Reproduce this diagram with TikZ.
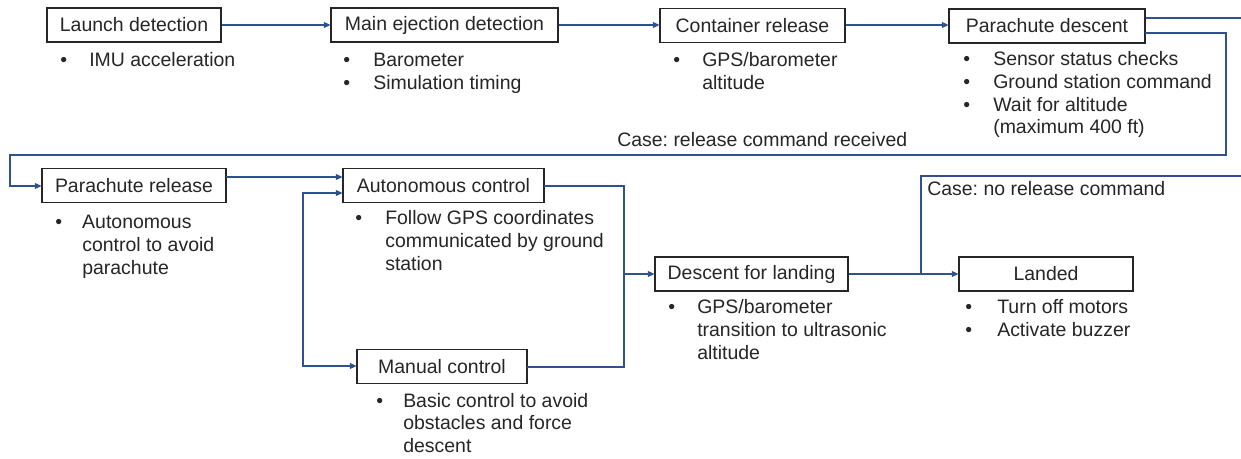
\documentclass[tikz,border=0pt]{standalone}
\usepackage{fontspec}
\setmainfont{Liberation Sans}
\usetikzlibrary{arrows.meta}
\definecolor{flowblue}{RGB}{47,82,143}
\definecolor{ink}{RGB}{38,38,38}
\frenchspacing
% bullet list: first column holds the bullet, second the (manually broken) text
\newcommand\bulletlist[2]{\begin{tabular}[t]{@{}p{#1}@{}l@{}}#2\end{tabular}}

\begin{document}
\begin{tikzpicture}[x=0.75pt,y=-0.75pt,
  every node/.style={font=\fontsize{14.6pt}{16.9pt}\selectfont, text=ink},
  stage/.style={draw=ink, line width=0.8pt, minimum height=25.5pt, inner sep=0pt},
  wd/.style={minimum width=#1*0.75pt},
  notes/.style={anchor=base west, inner sep=0pt},
  conn/.style={draw=flowblue, line width=0.9pt},
  arr/.style={-{Triangle[length=5pt,width=4.5pt]}},
  twoarr/.style={{Triangle[length=5pt,width=4.5pt]}-{Triangle[length=5pt,width=4.5pt]}}]

\useasboundingbox[fill=white] (0,0) rectangle (1241,459);

% ---- stages ----
\node[stage, wd=174] (launch)  at (134,25)     {Launch detection};
\node[stage, wd=227] (eject)   at (444.5,25)   {Main ejection detection};
\node[stage, wd=185] (contain) at (752.5,25.5) {Container release};
\node[stage, wd=196] (pdesc)   at (1047,26)    {Parachute descent};
\node[stage, wd=184] (prel)    at (134,185.5)  {Parachute release};
\node[stage, wd=201] (auto)    at (443.5,185.5){Autonomous control};
\node[stage, wd=170] (manual)  at (442,366.5)  {Manual control};
\node[stage, wd=193] (dland)   at (751.5,274)  {Descent for landing};
\node[stage, wd=174] (landed)  at (1046,274)   {Landed};

% ---- notes under each stage ----
\node[notes] (nlaunch) at (60,67) {\bulletlist{21.75pt}{\textbullet & IMU acceleration}};
\node[notes] (neject) at (343,67) {\bulletlist{22.5pt}{\textbullet & Barometer\\ \textbullet & Simulation timing}};
\node[notes] (ncontain) at (673,67) {\bulletlist{21.75pt}{\textbullet & GPS/barometer\\ & altitude}};
\node[notes] (npdesc) at (963,66) {\bulletlist{22.5pt}{\textbullet & Sensor status checks\\ \textbullet & Ground station command\\ \textbullet & Wait for altitude\\ & (maximum 400 ft)}};
\node[notes] (nprel) at (55,229) {\bulletlist{20.25pt}{\textbullet & Autonomous\\ & control to avoid\\ & parachute}};
\node[notes] (nauto) at (355,225) {\bulletlist{22.5pt}{\textbullet & Follow GPS coordinates\\ & communicated by ground\\ & station}};
\node[notes] (nmanual) at (376,407) {\bulletlist{20.25pt}{\textbullet & Basic control to avoid\\ & obstacles and force\\ & descent}};
\node[notes] (ndland) at (668,314) {\bulletlist{21.75pt}{\textbullet & GPS/barometer\\ & transition to ultrasonic\\ & altitude}};
\node[notes] (nlanded) at (965,314) {\bulletlist{24pt}{\textbullet & Turn off motors\\ \textbullet & Activate buzzer}};

% ---- case labels ----
\node[notes] (caseyes) at (617,147) {Case: release command received};
\node[notes] (caseno)  at (927,196) {Case: no release command};

% ---- routing points ----
\coordinate (exitup)   at (1241,18);
\coordinate (loopout)  at (1145,33);
\coordinate (loopR)    at (1226,155);
\coordinate (loopL)    at (10,155);
\coordinate (prelin)   at (10,186);
\coordinate (prelout)  at (226,177);
\coordinate (autoin2)  at (303,193);
\coordinate (manualin) at (303,366);
\coordinate (merge)    at (624,274);
\coordinate (autoout)  at (544,186);
\coordinate (manout)   at (527,367);
\coordinate (branch)   at (921,274);
\coordinate (branchup) at (921,176);
\coordinate (exitlow)  at (1241,176);

% ---- connectors ----
\draw[conn, arr] (launch) -- (eject);
\draw[conn, arr] (eject) -- (contain.west |- eject);
\draw[conn, arr] (contain.east |- eject) -- (pdesc.west |- eject);
\draw[conn] (pdesc.east |- exitup) -- (exitup);
\draw[conn, arr] (loopout) -| (loopR) -- (loopL) -- (prelin) -- (prel.west |- prelin);
\draw[conn, arr] (prelout) -- (auto.west |- prelout);
\draw[conn, twoarr] (auto.west |- autoin2) -- (autoin2) -- (manualin) -- (manual.west |- manualin);
\draw[conn] (autoout) -| (merge) |- (manout);
\draw[conn, arr] (merge) -- (dland.west);
\draw[conn, arr] (dland.east) -- (landed.west);
\draw[conn] (branch) -- (branchup) -- (exitlow);

\end{tikzpicture}
\end{document}
